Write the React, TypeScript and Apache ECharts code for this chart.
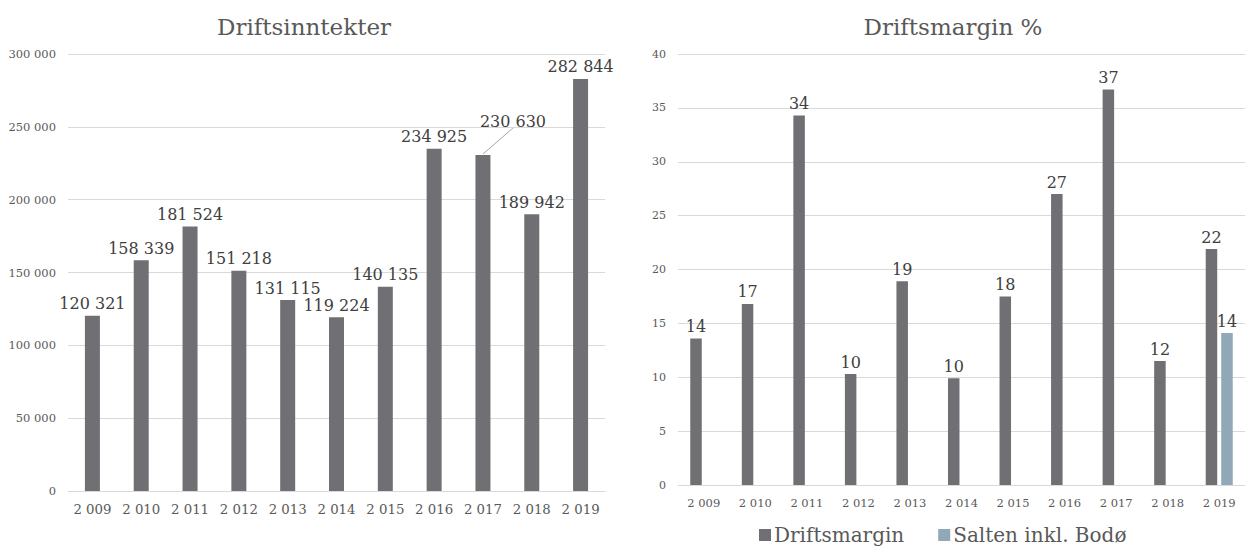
import React, { useEffect, useRef } from "react";
import * as echarts from "echarts";

const years = ["2 009", "2 010", "2 011", "2 012", "2 013", "2 014", "2 015", "2 016", "2 017", "2 018", "2 019"];
const driftsinntekter = [120321, 158339, 181524, 151218, 131115, 119224, 140135, 234925, 230630, 189942, 282844];
const driftsmargin = [13.6, 16.8, 34.3, 10.3, 18.9, 9.9, 17.5, 27.0, 36.7, 11.5, 21.9];
const salten: (number | null)[] = [null, null, null, null, null, null, null, null, null, null, 14.1];
const titles = ["Driftsinntekter", "Driftsmargin %"];
const legendNames = ["Driftsmargin", "Salten inkl. Bodø"];
const movedLabelIndex = 8;

const FONT = "DejaVu Serif";
const GRAY = "#706f73";
const BLUE = "#91a8b8";
const LABEL_DX = 30;
const LABEL_DY = -22;

const fmt = (v: number) => String(Math.round(v)).replace(/\B(?=(\d{3})+(?!\d))/g, " ");

export default function App() {
  const ref = useRef<HTMLDivElement>(null);
  useEffect(() => {
    const chart = echarts.init(ref.current!, null, { renderer: "svg" });
    chart.setOption({
      animation: false,
      textStyle: { fontFamily: FONT },
      graphic: [
        { type: "text", x: 304, y: 15, style: { text: titles[0], fill: "#595959", font: `23px '${FONT}'`, textAlign: "center" } },
        { type: "text", x: 953, y: 15, style: { text: titles[1], fill: "#595959", font: `23px '${FONT}'`, textAlign: "center" } },
      ],
      legend: {
        data: legendNames,
        left: 759,
        top: 524,
        padding: 0,
        icon: "rect",
        itemWidth: 12,
        itemHeight: 12,
        itemGap: 34,
        textStyle: { fontFamily: FONT, fontSize: 20, lineHeight: 22, color: "#595959", padding: [0, 0, 0, -2] },
      },
      grid: [
        { left: 68, right: 640, top: 54, bottom: 58 },
        { left: 678, right: -2, top: 54, bottom: 64 },
      ],
      xAxis: [
        {
          type: "category", gridIndex: 0, data: years,
          axisLine: { lineStyle: { color: "#d9d9d9" } }, axisTick: { show: false },
          axisLabel: { color: "#595959", fontFamily: FONT, fontSize: 13.3, margin: 12, interval: 0 },
        },
        {
          type: "category", gridIndex: 1, data: years,
          axisLine: { lineStyle: { color: "#d9d9d9" } }, axisTick: { show: false },
          axisLabel: { color: "#595959", fontFamily: FONT, fontSize: 11.5, margin: 12, interval: 0 },
        },
      ],
      yAxis: [
        {
          type: "value", gridIndex: 0, min: 0, max: 300000, interval: 50000,
          axisLine: { show: false }, axisTick: { show: false },
          splitLine: { lineStyle: { color: "#d9d9d9" } },
          axisLabel: { color: "#595959", fontFamily: FONT, fontSize: 11.5, margin: 12, formatter: (v: number) => fmt(v) },
        },
        {
          type: "value", gridIndex: 1, min: 0, max: 40, interval: 5,
          axisLine: { show: false }, axisTick: { show: false },
          splitLine: { lineStyle: { color: "#d9d9d9" } },
          axisLabel: { color: "#595959", fontFamily: FONT, fontSize: 11, margin: 12 },
        },
      ],
      series: [
        {
          name: "Driftsinntekter", type: "bar", xAxisIndex: 0, yAxisIndex: 0,
          data: driftsinntekter, barWidth: 15,
          itemStyle: { color: GRAY },
          label: { show: true, position: "top", distance: 4, color: "#404040", fontFamily: FONT, fontSize: 16, formatter: (p: any) => fmt(p.value) },
          labelLayout: (p: any) => (p.dataIndex === movedLabelIndex ? { dx: LABEL_DX, dy: LABEL_DY } : {}),
        },
        {
          name: "leader", type: "custom", xAxisIndex: 0, yAxisIndex: 0, silent: true, z: 3,
          data: [[movedLabelIndex, driftsinntekter[movedLabelIndex]]],
          renderItem: (params: any, api: any) => {
            const pt = api.coord([api.value(0), api.value(1)]);
            return {
              type: "line",
              shape: { x1: pt[0], y1: pt[1] - 1, x2: pt[0] + LABEL_DX, y2: pt[1] + LABEL_DY - 5 },
              style: { stroke: "#a6a6a6", lineWidth: 1 },
            };
          },
        },
        {
          name: legendNames[0], type: "bar", xAxisIndex: 1, yAxisIndex: 1,
          data: driftsmargin, barWidth: 11.5, barGap: "35%",
          itemStyle: { color: GRAY },
          label: { show: true, position: "top", distance: 4, color: "#404040", fontFamily: FONT, fontSize: 16, formatter: (p: any) => fmt(p.value) },
        },
        {
          name: legendNames[1], type: "bar", xAxisIndex: 1, yAxisIndex: 1,
          data: salten, barWidth: 11.5, barGap: "35%",
          itemStyle: { color: BLUE },
          label: { show: true, position: "top", distance: 4, color: "#404040", fontFamily: FONT, fontSize: 16, formatter: (p: any) => fmt(p.value) },
        },
      ],
    });
    return () => chart.dispose();
  }, []);
  return <div ref={ref} style={{ position: "absolute", left: 0, top: 0, width: 1245, height: 549 }} />;
}
